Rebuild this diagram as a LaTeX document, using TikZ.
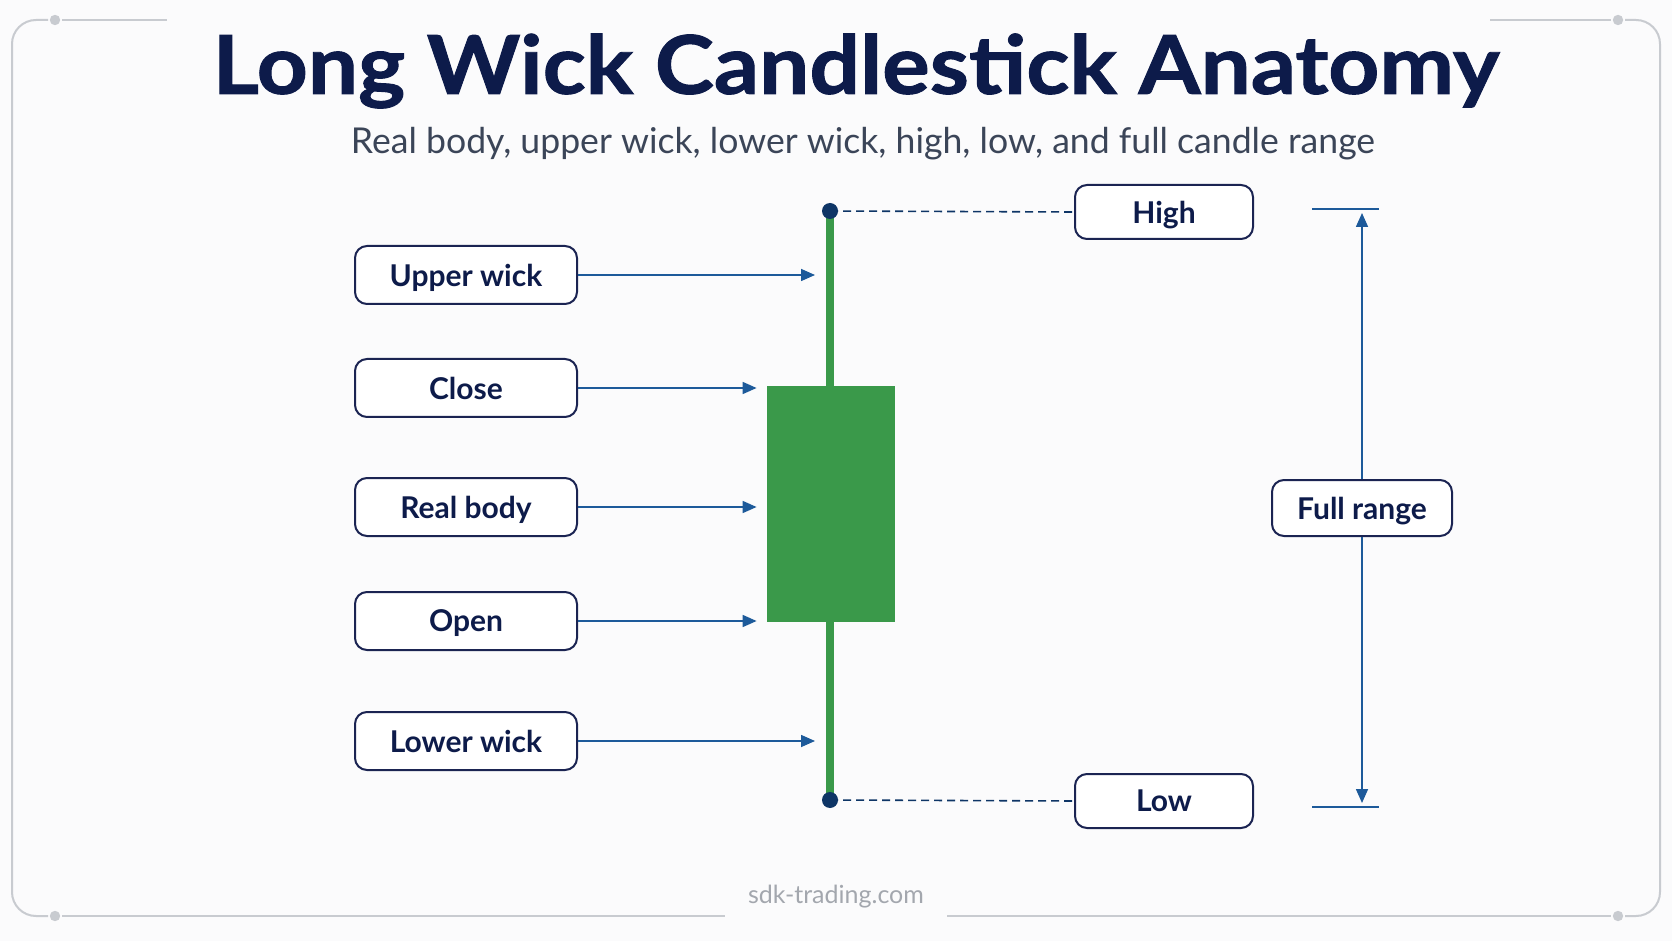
\documentclass[tikz,border=0pt]{standalone}
\usepackage{fontspec}
\setmainfont{Lato}
\newfontfamily\titlefont{Lato}[FakeStretch=1.1,FakeBold=1.2]
\usepackage{tikz}
\usetikzlibrary{arrows.meta,positioning,calc}
\definecolor{bgPaper}{RGB}{251,251,252}
\definecolor{inkNavy}{RGB}{13,27,74}
\definecolor{boxNavy}{RGB}{27,36,82}
\definecolor{subGray}{RGB}{59,69,88}
\definecolor{footGray}{RGB}{163,167,174}
\definecolor{frameGray}{RGB}{200,203,208}
\definecolor{arrowBlue}{RGB}{29,90,154}
\definecolor{dotNavy}{RGB}{14,53,102}
\definecolor{candleGreen}{RGB}{58,153,74}

\begin{document}
\begin{tikzpicture}[x=0.5pt,y=-0.5pt,
  labelbox/.style={draw=boxNavy,line width=1pt,rounded corners=6pt,fill=white,
    text=inkNavy,font=\fontsize{15}{18}\selectfont\bfseries,inner sep=0pt,
    text depth=0pt,minimum width=111pt,minimum height=29pt},
  pointer/.style={draw=arrowBlue,line width=0.8pt,-{Triangle[length=7pt,width=6pt]}},
  guide/.style={draw=dotNavy,line width=0.8pt,dash pattern=on 4pt off 2.5pt},
  framepen/.style={draw=frameGray,line width=1pt}]

%─── Background and frame ────────────────────────────────────────────────────
\fill[bgPaper] (0,0) rectangle (1672,941);
\useasboundingbox (0,0) rectangle (1672,941);
\draw[framepen] (48,20) -- (36,20) arc[start angle=90,end angle=180,radius=12pt]
  -- (12,892) arc[start angle=180,end angle=270,radius=12pt] -- (48,916);
\draw[framepen] (62,20) -- (167,20);
\draw[framepen] (1490,20) -- (1611,20);
\draw[framepen] (1625,20) -- (1636,20) arc[start angle=90,end angle=0,radius=12pt]
  -- (1660,892) arc[start angle=0,end angle=-90,radius=12pt] -- (1625,916);
\draw[framepen] (62,916) -- (725,916);
\draw[framepen] (947,916) -- (1611,916);
\fill[frameGray] (55,20) circle (2.6pt);
\fill[frameGray] (1618,20) circle (2.6pt);
\fill[frameGray] (55,916) circle (2.6pt);
\fill[frameGray] (1618,916) circle (2.6pt);

%─── Titles ──────────────────────────────────────────────────────────────────
\node[text=inkNavy,font=\fontsize{40.5}{48}\titlefont\bfseries] (title) at (856,71)
  {Long Wick Candlestick Anatomy};
\node[text=subGray,font=\fontsize{17.8}{21}\selectfont] (subtitle) at (863,144)
  {Real body, upper wick, lower wick, high, low, and full candle range};
\node[text=footGray,font=\fontsize{12.5}{15}\selectfont] (footer) at (836,897)
  {sdk-trading.com};

%─── Candle ──────────────────────────────────────────────────────────────────
\coordinate (hi) at (830,211);
\coordinate (lo) at (830,800);
\draw[candleGreen,line width=4.3pt] (hi) -- (lo);
\node[fill=candleGreen,inner sep=0pt,minimum width=64pt,minimum height=118pt]
  (body) at (831,504) {};
\fill[dotNavy] (hi) circle (4pt);
\fill[dotNavy] (lo) circle (4pt);

%─── Left labels ─────────────────────────────────────────────────────────────
\node[labelbox] (upper) at (466,275) {Upper wick};
\node[labelbox] (close) at (466,388) {Close};
\node[labelbox] (realbody) at (466,507) {Real body};
\node[labelbox] (open) at (466,621) {Open};
\node[labelbox] (lower) at (466,741) {Lower wick};
\draw[pointer,shorten >=7.5pt] (upper.east) -- (upper -| hi);
\draw[pointer,shorten >=5pt] (close.east) -- (close -| body.west);
\draw[pointer,shorten >=5pt] (realbody.east) -- (realbody -| body.west);
\draw[pointer,shorten >=5pt] (open.east) -- (open -| body.west);
\draw[pointer,shorten >=7.5pt] (lower.east) -- (lower -| hi);

%─── High / low ──────────────────────────────────────────────────────────────
\node[labelbox,minimum width=89pt,minimum height=27pt] (high) at (1164,212) {High};
\node[labelbox,minimum width=89pt,minimum height=27pt] (low) at (1164,801) {Low};
\draw[guide] (hi) -- (high.west);
\draw[guide] (lo) -- (low.west);

%─── Full range ──────────────────────────────────────────────────────────────
\coordinate (rtop) at (1362,209);
\coordinate (rbot) at (1362,807);
\draw[arrowBlue,line width=1pt] (1312,209) -- (1379,209);
\draw[arrowBlue,line width=1pt] (1312,807) -- (1379,807);
\node[labelbox,minimum width=90pt,minimum height=28pt] (range) at (1362,508) {Full range};
\draw[pointer,shorten >=2pt] (range.north) -- (rtop);
\draw[pointer,shorten >=2pt] (range.south) -- (rbot);

\end{tikzpicture}
\end{document}
